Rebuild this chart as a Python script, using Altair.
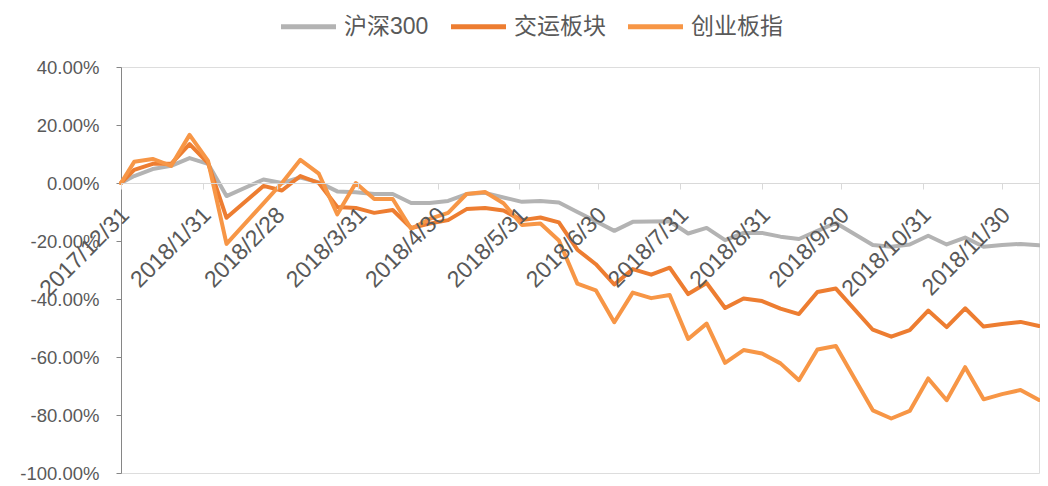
import altair as alt
import pandas as pd

# ---- data (weekly) ----
dates = [
    "2017-12-31", "2018-01-05", "2018-01-12", "2018-01-19", "2018-01-26",
    "2018-02-02", "2018-02-09", "2018-02-23", "2018-03-02", "2018-03-09",
    "2018-03-16", "2018-03-23", "2018-03-30", "2018-04-06", "2018-04-13",
    "2018-04-20", "2018-04-27", "2018-05-04", "2018-05-11", "2018-05-18",
    "2018-05-25", "2018-06-01", "2018-06-08", "2018-06-15", "2018-06-22",
    "2018-06-29", "2018-07-06", "2018-07-13", "2018-07-20", "2018-07-27",
    "2018-08-03", "2018-08-10", "2018-08-17", "2018-08-24", "2018-08-31",
    "2018-09-07", "2018-09-14", "2018-09-21", "2018-09-28", "2018-10-12",
    "2018-10-19", "2018-10-26", "2018-11-02", "2018-11-09", "2018-11-16",
    "2018-11-23", "2018-11-30", "2018-12-07", "2018-12-14",
]
hs300 = [
    0.0, 2.4, 4.8, 5.9, 8.6,
    6.6, -4.5, 1.2, 0.0, 1.9,
    0.2, -2.9, -3.2, -3.8, -3.8,
    -6.9, -6.9, -6.2, -3.8, -3.4,
    -5.0, -6.5, -6.2, -6.7, -10.0,
    -13.2, -16.5, -13.4, -13.3, -13.2,
    -17.4, -15.5, -19.7, -17.2, -17.2,
    -18.5, -19.3, -16.5, -13.8, -21.4,
    -22.0, -21.2, -18.2, -21.2, -18.8,
    -22.0, -21.4, -21.0, -21.5,
]
jiaoyun = [
    0.0, 4.5, 6.6, 6.6, 13.4,
    6.9, -12.0, -1.0, -2.6, 2.4,
    0.0, -8.3, -8.6, -10.3, -9.3,
    -15.5, -14.0, -12.8, -9.0, -8.6,
    -9.5, -12.8, -11.9, -13.6, -23.0,
    -28.0, -35.0, -29.7, -31.6, -29.2,
    -38.3, -34.5, -43.1, -39.8, -40.7,
    -43.3, -45.2, -37.6, -36.4, -50.6,
    -53.0, -50.7, -44.0, -49.7, -43.2,
    -49.5, -48.6, -47.9, -49.3,
]
chuangye = [
    0.0, 7.3, 8.3, 5.9, 16.6,
    7.6, -21.0, -7.0, 0.0, 8.0,
    3.2, -10.8, 0.0, -5.5, -5.5,
    -15.8, -12.4, -10.3, -3.8, -3.1,
    -7.0, -14.5, -14.0, -19.8, -34.7,
    -37.0, -48.0, -37.8, -39.7, -38.6,
    -53.8, -48.5, -62.0, -57.6, -58.8,
    -62.2, -68.0, -57.4, -56.2, -78.4,
    -81.2, -78.6, -67.4, -74.9, -63.5,
    -74.6, -72.8, -71.4, -74.8,
]
series_names = ["沪深300", "交运板块", "创业板指"]
series_colors = ["#B3B3B3", "#ED7D31", "#F79646"]
tick_dates = [
    "2017-12-31", "2018-01-31", "2018-02-28", "2018-03-31", "2018-04-30",
    "2018-05-31", "2018-06-30", "2018-07-31", "2018-08-31", "2018-09-30",
    "2018-10-31", "2018-11-30",
]
y_ticks = [0.4, 0.2, 0.0, -0.2, -0.4, -0.6, -0.8, -1.0]

rows = []
for name, vals in zip(series_names, [hs300, jiaoyun, chuangye]):
    for d, v in zip(dates, vals):
        rows.append({"date": d, "series": name, "value": v / 100.0})
df = pd.DataFrame(rows)


def ms(s):
    return int(pd.Timestamp(s, tz="UTC").timestamp() * 1000)


PLOT_W = 918
PLOT_H = 406

x = alt.X(
    "date:T",
    scale=alt.Scale(type="utc", domain=[ms(dates[0]), ms(dates[-1])], nice=False),
    axis=alt.Axis(
        values=[ms(t) for t in tick_dates],
        labelExpr="utcFormat(datum.value, '%Y/%-m/%-d')",
        labelAngle=-45,
        labelAlign="right",
        labelBaseline="middle",
        labelPadding=22,
        labelOffset=4,
        labelFontSize=23,
        labelFont="Liberation Sans",
        labelColor="#595959",
        domainColor="#D9D9D9",
        domainWidth=1,
        tickColor="#D9D9D9",
        tickSize=6,
        offset=-290,
        grid=False,
        title=None,
        labelOverlap=False,
        labelBound=False,
        labelFlush=False,
        zindex=1,
    ),
)
y = alt.Y(
    "value:Q",
    scale=alt.Scale(domain=[-1.0, 0.4], nice=False, zero=False),
    axis=alt.Axis(
        values=y_ticks,
        labelExpr="replace(format(datum.value, '.2%'), '\u2212', '-')",
        labelFontSize=18.5,
        labelFont="Liberation Sans",
        labelColor="#595959",
        domainColor="#868686",
        tickColor="#868686",
        tickSize=5,
        labelPadding=17,
        grid=False,
        title=None,
    ),
)
# wide, flat legend symbol (a horizontal line ~55px long, small layout box)
color = alt.Color(
    "series:N",
    scale=alt.Scale(domain=series_names, range=series_colors),
    sort=series_names,
    legend=alt.Legend(
        orient="none",
        legendX=176,
        legendY=-52,
        offset=0,
        direction="horizontal",
        title=None,
        symbolType="M-5,0H5",
        symbolSize=121,
        symbolStrokeWidth=5,
        labelFontSize=23,
        labelFont="Liberation Sans, Noto Sans CJK SC",
        labelColor="#595959",
        columnPadding=12,
        labelOffset=24,
        padding=0,
    ),
)

chart = (
    alt.Chart(df)
    .mark_line(strokeWidth=4, strokeJoin="round", strokeCap="round")
    .encode(x=x, y=y, color=color)
    .properties(
        width=PLOT_W,
        height=PLOT_H,
        autosize=alt.AutoSizeParams(type="none"),
        padding={"left": 113, "top": 59, "right": 1, "bottom": 10},
    )
    .configure_view(stroke=None)
    .configure(background="white")
)

chart.save("out.html", embed_options={"renderer": "svg", "actions": False})
